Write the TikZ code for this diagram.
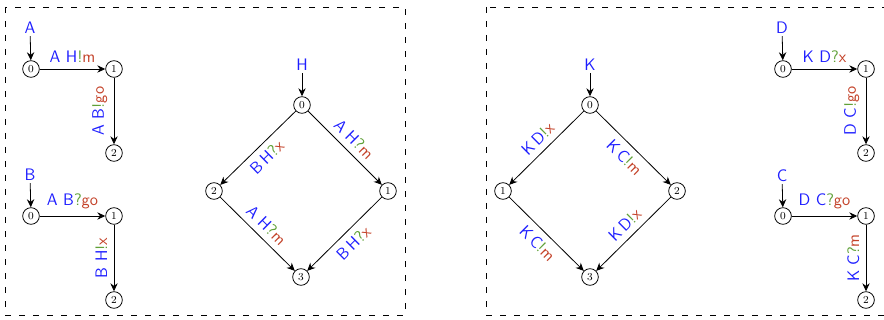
\documentclass[tikz,border=0pt]{standalone}
\usetikzlibrary{arrows.meta}
\definecolor{cb}{RGB}{30,30,255}
\definecolor{cg}{RGB}{95,160,55}
\definecolor{cr}{RGB}{195,65,40}
\newcommand{\lbl}[3]{\textcolor{cb}{#1}\textcolor{cg}{#2}\textcolor{cr}{#3}}
\begin{document}
\begin{tikzpicture}[x=0.75pt,y=-0.75pt,
  font=\sffamily\fontsize{12.5}{14}\selectfont,
  st/.style={circle,draw,line width=0.6pt,minimum size=12.5pt,inner sep=0pt,font=\rmfamily\fontsize{8}{9}\selectfont},
  tr/.style={-{Stealth[length=6pt,width=5.5pt,inset=2pt]},line width=0.6pt},
  nm/.style={text=cb,inner sep=1.5pt},
  lb/.style={inner sep=4.8pt},
  box/.style={dash pattern=on 4.5pt off 6pt,line width=0.6pt}]
\clip (0,0) rectangle (884,320);
\draw[box] (5,7) rectangle (405,315);
\draw[box] (486,7) rectangle (890,315);
% A
\node[nm] (nA) at (30,28) {A};
\node[st] (a0) at (31,69) {0};
\node[st] (a1) at (114,69) {1};
\node[st] (a2) at (114,153) {2};
\draw[tr] (nA) -- (a0);
\draw[tr] (a0) -- node[lb,above] {\lbl{A H}{!}{m}} (a1);
\draw[tr] (a1) -- node[lb,midway,rotate=90,anchor=south] {\lbl{A B}{!}{go}} (a2);
% B
\node[nm] (nB) at (30,175) {B};
\node[st] (b0) at (31,216) {0};
\node[st] (b1) at (114,216) {1};
\node[st] (b2) at (114,300) {2};
\draw[tr] (nB) -- (b0);
\draw[tr] (b0) -- node[lb,above] {\lbl{A B}{?}{go}} (b1);
\draw[tr] (b1) -- node[lb,midway,rotate=90,anchor=south] {\lbl{B H}{!}{x}} (b2);
% H
\node[nm] (nH) at (302,65) {H};
\node[st] (h0) at (302,105) {0};
\node[st] (h1) at (388,191) {1};
\node[st] (h2) at (214,191) {2};
\node[st] (h3) at (301,277) {3};
\draw[tr] (nH) -- (h0);
\draw[tr] (h0) -- node[lb,sloped,above] {\lbl{A H}{?}{m}} (h1);
\draw[tr] (h0) -- node[lb,sloped,below] {\lbl{B\,H}{?}{x}} (h2);
\draw[tr] (h2) -- node[lb,sloped,above] {\lbl{A H}{?}{m}} (h3);
\draw[tr] (h1) -- node[lb,sloped,below] {\lbl{B\,H}{?}{x}} (h3);
% K
\node[nm] (nK) at (590,65) {K};
\node[st] (k0) at (590,105) {0};
\node[st] (k1) at (503,191) {1};
\node[st] (k2) at (677,191) {2};
\node[st] (k3) at (590,277) {3};
\draw[tr] (nK) -- (k0);
\draw[tr] (k0) -- node[lb,sloped,above] {\lbl{K\,D}{!}{x}} (k1);
\draw[tr] (k0) -- node[lb,sloped,below] {\lbl{K\,C}{!}{m}} (k2);
\draw[tr] (k1) -- node[lb,sloped,below] {\lbl{K\,C}{!}{m}} (k3);
\draw[tr] (k2) -- node[lb,sloped,above] {\lbl{K\,D}{!}{x}} (k3);
% D
\node[nm] (nD) at (782,28) {D};
\node[st] (d0) at (783,69) {0};
\node[st] (d1) at (866,69) {1};
\node[st] (d2) at (866,153) {2};
\draw[tr] (nD) -- (d0);
\draw[tr] (d0) -- node[lb,above] {\lbl{K D}{?}{x}} (d1);
\draw[tr] (d1) -- node[lb,midway,rotate=90,anchor=south] {\lbl{D C}{!}{go}} (d2);
% C
\node[nm] (nC) at (782,176) {C};
\node[st] (c0) at (783,216) {0};
\node[st] (c1) at (866,216) {1};
\node[st] (c2) at (866,300) {2};
\draw[tr] (nC) -- (c0);
\draw[tr] (c0) -- node[lb,above] {\lbl{D C}{?}{go}} (c1);
\draw[tr] (c1) -- node[lb,midway,rotate=90,anchor=south] {\lbl{K C}{?}{m}} (c2);
\end{tikzpicture}
\end{document}
